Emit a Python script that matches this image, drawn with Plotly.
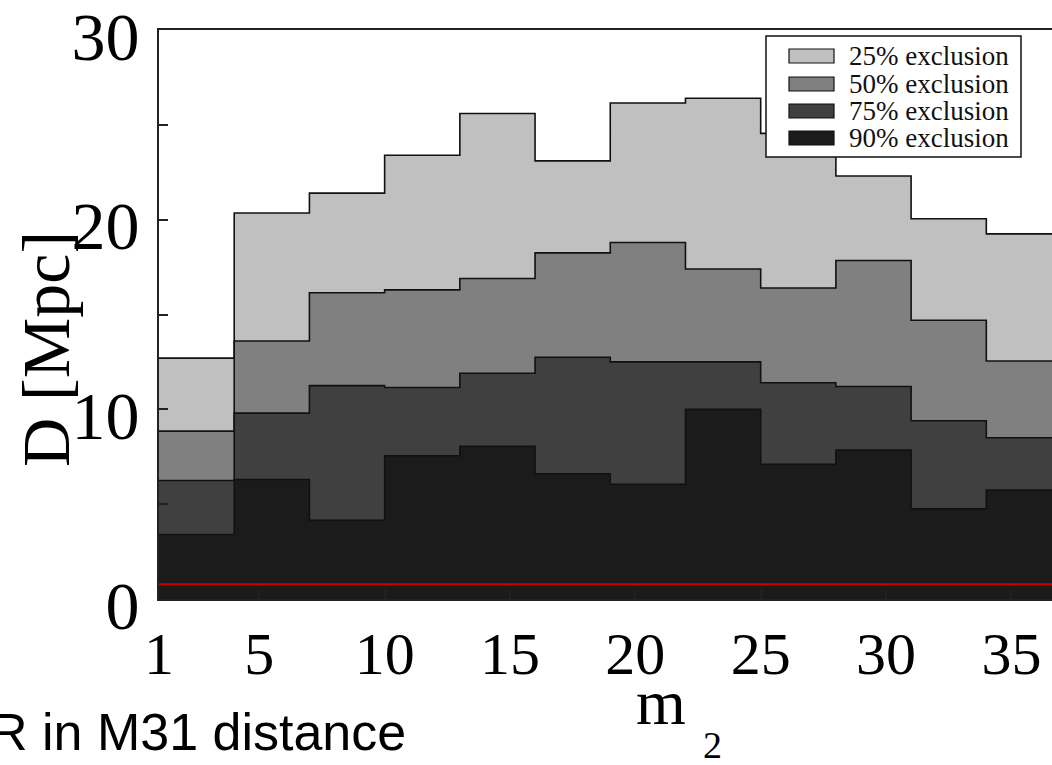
import plotly.graph_objects as go

# ---------------- data ----------------
bin_edges = [1, 4, 7, 10, 13, 16, 19, 22, 25, 28, 31, 34, 37]
series_names = ["25% exclusion", "50% exclusion", "75% exclusion", "90% exclusion"]
d25 = [12.7, 20.35, 21.4, 23.4, 25.6, 23.1, 26.15, 26.4, 24.55, 22.3, 20.05, 19.25]
d50 = [8.85, 13.6, 16.15, 16.3, 16.9, 18.25, 18.8, 17.4, 16.4, 17.85, 14.7, 12.55]
d75 = [6.25, 9.8, 11.25, 11.15, 11.9, 12.75, 12.5, 12.5, 11.4, 11.2, 9.4, 8.5]
d90 = [3.4, 6.3, 4.15, 7.55, 8.05, 6.6, 6.05, 10.0, 7.1, 7.85, 4.75, 5.75]
m31_distance = 0.78
x_ticks = [1, 5, 10, 15, 20, 25, 30, 35]
y_ticks = [0, 5, 10, 15, 20, 25, 30]
y_ticktext = ["0", "", "10", "", "20", "", "30"]

# ---------------- style ----------------
colors = ["#c0c0c0", "#808080", "#404040", "#1b1b1b"]
W, H = 1052, 765
ML, MR, MT, MB = 159, 0, 30, 166
PW, PH = W - ML - MR, H - MT - MB
SERIF = "Liberation Serif"


def px(xp):
    return (xp - ML) / PW


def py(yp):
    return (H - MB - yp) / PH


fig = go.Figure()
for name, vals, col in zip(series_names, [d25, d50, d75, d90], colors):
    fig.add_trace(go.Scatter(
        x=bin_edges, y=vals + [vals[-1]], mode="lines", line_shape="hv",
        line=dict(color="#111111", width=1.6), fill="tozeroy", fillcolor=col,
        name=name, showlegend=False, hoverinfo="skip"))

fig.add_trace(go.Scatter(
    x=[bin_edges[0], bin_edges[-1]], y=[m31_distance, m31_distance], mode="lines",
    line=dict(color="#cc0000", width=2), showlegend=False, hoverinfo="skip"))

shapes = []
annotations = []

# custom legend
shapes.append(dict(type="rect", xref="paper", yref="paper",
                   x0=px(766), x1=px(1021), y0=py(157), y1=py(36),
                   line=dict(color="#111111", width=1.5), fillcolor="white", layer="above"))
row_centers = [56, 84, 111, 138]
for name, col, rc in zip(series_names, colors, row_centers):
    shapes.append(dict(type="rect", xref="paper", yref="paper",
                       x0=px(789), x1=px(834), y0=py(rc + 7), y1=py(rc - 7),
                       line=dict(color="#111111", width=1.2), fillcolor=col, layer="above"))
    annotations.append(dict(text=name, xref="paper", yref="paper", x=px(847), y=py(rc),
                            xanchor="left", yanchor="middle", showarrow=False,
                            font=dict(family=SERIF, size=27, color="#111111")))

# axis titles
annotations.append(dict(text="D [Mpc]", xref="paper", yref="paper", x=px(46), y=py(349),
                        textangle=-90, xanchor="center", yanchor="middle", showarrow=False,
                        font=dict(family=SERIF, size=68, color="black")))
annotations.append(dict(text="m", xref="paper", yref="paper", x=px(661), y=py(702),
                        xanchor="center", yanchor="middle", showarrow=False,
                        font=dict(family=SERIF, size=64, color="black")))
annotations.append(dict(text="2", xref="paper", yref="paper", x=px(712), y=py(745),
                        xanchor="center", yanchor="middle", showarrow=False,
                        font=dict(family=SERIF, size=38, color="black")))
annotations.append(dict(text="R in M31 distance", xref="paper", yref="paper", x=px(-12), y=py(732),
                        xanchor="left", yanchor="middle", showarrow=False,
                        font=dict(family="Liberation Sans", size=52, color="black")))

fig.update_layout(
    width=W, height=H, margin=dict(l=ML, r=MR, t=MT, b=MB, autoexpand=False),
    paper_bgcolor="white", plot_bgcolor="white",
    shapes=shapes, annotations=annotations, showlegend=False,
    xaxis=dict(range=[1, 1 + PW / 25.07], tickvals=x_ticks, ticks="inside", ticklen=9,
               tickcolor="#222222", tickwidth=1.5, showline=True, linecolor="#222222",
               linewidth=2, mirror=True, showgrid=False, zeroline=False,
               automargin=False, ticklabelstandoff=1, ticklabeloverflow="allow",
               tickfont=dict(family=SERIF, size=60, color="black")),
    yaxis=dict(range=[0, 30], tickvals=y_ticks, ticktext=y_ticktext, ticks="inside",
               ticklen=9, tickcolor="#222222", tickwidth=1.5, showline=True,
               linecolor="#222222", linewidth=2, mirror=False, showgrid=False,
               zeroline=False, automargin=False, ticklabelstandoff=4, ticklabelshift=6,
               ticklabeloverflow="allow",
               tickfont=dict(family=SERIF, size=68, color="black")),
)

fig.write_html("out.html")
